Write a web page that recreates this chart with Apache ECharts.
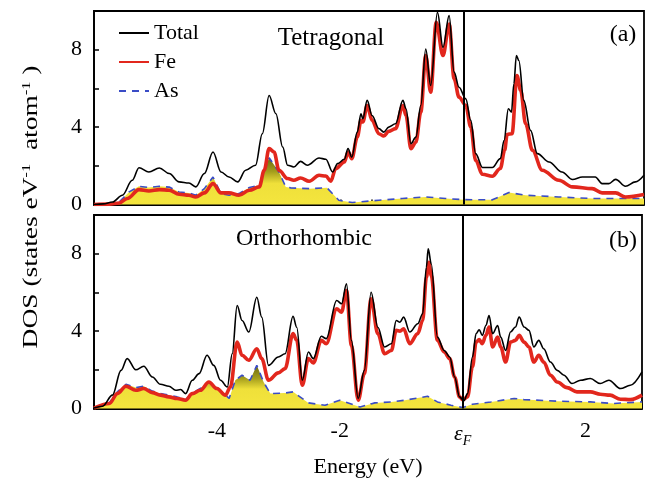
<!DOCTYPE html>
<html><head><meta charset="utf-8">
<script src="https://cdn.jsdelivr.net/npm/echarts@6/dist/echarts.min.js"></script>
<style>html,body{margin:0;padding:0;background:#fff}#c{width:645px;height:483px}</style>
</head><body><div id="c"></div>
<script>
// ---------- data (energy in eV, DOS in states/eV/atom) ----------
const tetTotalE = [-6.0,-5.85,-5.70,-5.54,-5.38,-5.27,-5.11,-4.94,-4.78,-4.62,-4.46,-4.35,-4.21,-4.07,-3.94,-3.81,-3.67,-3.54,-3.38,-3.27,-3.16,-3.05,-2.94,-2.86,-2.76,-2.65,-2.54,-2.35,-2.24,-2.13,-2.05,-1.94,-1.88,-1.82,-1.73,-1.67,-1.64,-1.57,-1.49,-1.38,-1.30,-1.22,-1.11,-0.99,-0.94,-0.86,-0.78,-0.70,-0.62,-0.54,-0.43,-0.34,-0.24,-0.16,-0.08,0.03,0.11,0.19,0.30,0.46,0.59,0.65,0.72,0.77,0.81,0.85,0.89,0.97,1.08,1.19,1.38,1.59,1.76,1.92,2.13,2.24,2.35,2.46,2.62,2.78,2.92];
const tetTotalV = [0,0.03,0.13,0.48,1.25,1.9,1.68,1.89,1.6,1.17,1.11,0.91,1.6,2.71,1.68,1.42,1.17,1.77,2.03,3.66,5.63,4.69,2.97,2.03,1.94,2.23,2.03,2.4,2.34,1.68,2.11,2.34,2.89,2.45,3.74,4.69,4.43,5.38,4.6,3.92,3.74,4.0,4.17,5.38,4.95,3.14,3.48,5.12,8.04,6.15,9.93,8.12,9.76,6.84,6.06,5.46,4.35,2.63,1.91,1.91,2.37,3.31,4.95,4.77,6.24,7.7,7.44,5.38,3.83,2.63,2.2,1.68,1.29,1.42,1.42,1.08,1.08,1.3,0.94,1.17,1.51];

const tetFeE = [-6.0,-5.75,-5.59,-5.46,-5.27,-5.11,-4.94,-4.78,-4.62,-4.46,-4.35,-4.21,-4.07,-3.94,-3.81,-3.65,-3.48,-3.32,-3.24,-3.16,-3.08,-3.0,-2.86,-2.76,-2.65,-2.51,-2.35,-2.24,-2.16,-2.08,-1.94,-1.88,-1.82,-1.73,-1.67,-1.64,-1.57,-1.49,-1.38,-1.30,-1.22,-1.11,-0.99,-0.94,-0.86,-0.78,-0.70,-0.62,-0.54,-0.45,-0.34,-0.24,-0.16,-0.08,0.03,0.11,0.19,0.30,0.46,0.59,0.66,0.70,0.78,0.86,0.92,1.0,1.11,1.27,1.54,1.76,2.08,2.24,2.46,2.62,2.92];
const tetFeV = [0,0.02,0.08,0.31,0.77,0.7,0.77,0.74,0.53,0.48,0.39,0.6,1.08,0.6,0.6,0.48,0.74,0.91,1.77,2.89,2.71,1.77,1.34,1.25,1.37,1.2,1.51,1.47,1.2,1.86,2.2,2.71,2.37,3.48,4.35,4.26,5.12,4.35,3.66,3.54,3.78,3.92,5.12,4.6,2.89,3.22,4.77,7.7,5.8,9.41,7.7,9.33,6.5,5.55,5.12,4.0,2.28,1.56,1.46,1.86,2.8,3.62,3.66,6.66,5.89,4.17,2.8,1.77,1.25,0.91,0.82,0.6,0.6,0.39,0.52];

const tetAsE = [-6.0,-5.75,-5.59,-5.43,-5.27,-5.11,-4.94,-4.78,-4.62,-4.46,-4.35,-4.21,-4.07,-3.94,-3.81,-3.65,-3.48,-3.32,-3.16,-3.0,-2.89,-2.81,-2.51,-2.22,-2.03,-1.81,-1.38,-1.0,-0.62,-0.3,0.0,0.46,0.73,1.0,1.54,2.08,2.51,2.92];
const tetAsV = [0,0.05,0.13,0.65,0.94,0.88,0.94,0.9,0.65,0.6,0.48,0.82,1.42,0.56,0.48,0.56,0.88,1.0,2.42,1.68,0.91,0.86,0.82,0.86,0.22,0.1,0.22,0.31,0.39,0.31,0.25,0.24,0.62,0.48,0.39,0.31,0.31,0.31];

const ortTotalE = [-6.0,-5.86,-5.70,-5.56,-5.46,-5.32,-5.19,-5.05,-4.92,-4.78,-4.67,-4.59,-4.51,-4.40,-4.29,-4.16,-4.05,-3.94,-3.83,-3.75,-3.67,-3.59,-3.48,-3.35,-3.27,-3.16,-3.0,-2.89,-2.76,-2.70,-2.61,-2.51,-2.43,-2.30,-2.22,-2.05,-1.97,-1.89,-1.81,-1.70,-1.60,-1.49,-1.38,-1.27,-1.16,-1.08,-1.02,-0.96,-0.86,-0.73,-0.65,-0.59,-0.56,-0.51,-0.41,-0.30,-0.21,-0.13,-0.05,0.02,0.08,0.16,0.22,0.27,0.32,0.38,0.43,0.49,0.57,0.62,0.70,0.78,0.86,0.92,1.0,1.08,1.16,1.24,1.32,1.43,1.54,1.65,1.78,1.92,2.08,2.24,2.38,2.57,2.73,2.92];
const ortTotalV = [0.02,0.12,0.69,1.97,2.58,2.0,2.18,1.63,1.25,1.15,0.94,0.98,0.77,1.46,1.8,2.75,2.23,1.46,1.11,2.83,5.32,4.55,3.95,5.75,4.72,2.23,2.66,2.83,4.76,4.2,1.46,2.92,2.58,3.73,3.61,5.58,5.41,6.44,3.52,0.52,1.97,6.01,4.2,3.18,3.35,4.55,4.46,4.72,3.95,4.38,4.9,7.3,8.25,7.47,3.69,3.0,2.66,1.63,0.6,0.4,0.77,2.66,3.87,4.07,3.78,4.29,4.81,3.87,4.29,3.69,3.0,3.95,4.21,4.72,4.21,4.04,3.18,3.52,3.09,2.4,1.97,1.72,1.29,1.46,1.55,1.29,1.46,1.03,1.2,1.89];

const ortFeE = [-6.0,-5.75,-5.62,-5.48,-5.32,-5.19,-5.05,-4.92,-4.78,-4.65,-4.51,-4.40,-4.27,-4.13,-4.0,-3.86,-3.78,-3.67,-3.59,-3.48,-3.35,-3.27,-3.16,-3.0,-2.89,-2.76,-2.70,-2.61,-2.51,-2.43,-2.30,-2.22,-2.05,-1.97,-1.89,-1.81,-1.70,-1.60,-1.49,-1.38,-1.27,-1.16,-1.08,-1.02,-0.96,-0.86,-0.73,-0.65,-0.59,-0.55,-0.51,-0.41,-0.30,-0.21,-0.13,-0.05,0.0,0.08,0.16,0.22,0.27,0.32,0.38,0.43,0.49,0.57,0.62,0.70,0.78,0.86,0.92,1.0,1.08,1.16,1.24,1.32,1.43,1.54,1.70,1.86,2.08,2.24,2.40,2.57,2.73,2.92];
const ortFeV = [0.02,0.26,0.77,1.15,0.94,1.03,0.82,0.69,0.6,0.52,0.43,0.77,0.94,1.37,1.03,0.69,1.11,3.43,2.75,2.49,3.09,2.58,1.46,1.84,2.06,3.87,3.52,1.2,2.58,2.35,3.52,3.35,5.15,4.98,6.1,3.26,0.43,1.8,5.67,3.87,2.83,3.0,4.04,4.0,4.12,3.35,3.87,4.55,6.78,7.56,6.87,3.52,2.92,2.58,1.63,0.6,0.45,0.6,2.15,3.43,3.56,3.35,3.78,4.21,3.18,3.69,3.18,2.4,3.43,3.52,3.78,3.43,3.18,2.4,2.75,2.4,1.72,1.37,1.08,0.86,0.86,0.74,0.69,0.48,0.46,0.69];

const ortAsE = [-6.0,-5.75,-5.62,-5.48,-5.32,-5.19,-5.05,-4.92,-4.78,-4.65,-4.51,-4.40,-4.27,-4.13,-4.0,-3.86,-3.80,-3.70,-3.59,-3.46,-3.35,-3.24,-3.13,-2.89,-2.76,-2.51,-2.24,-2.0,-1.67,-1.43,-1.16,-0.94,-0.57,-0.41,-0.19,0.0,0.16,0.46,0.84,1.0,1.54,2.08,2.46,2.92];
const ortAsV = [0.02,0.3,0.86,1.25,1.08,1.15,0.9,0.77,0.69,0.6,0.46,0.8,1.03,1.37,1.11,0.69,0.52,1.46,1.72,1.46,2.23,1.37,0.77,0.8,0.86,0.29,0.17,0.43,0.08,0.29,0.34,0.43,0.63,0.34,0.17,0.05,0.22,0.34,0.52,0.46,0.38,0.34,0.26,0.34];

const seriesNames = ['Total','Fe','As'];
const panelTitles = ['Tetragonal','Orthorhombic'];
const panelTags = ['(a)','(b)'];
const xLabelValues = [-4,-2,0,2];
const yLabelValues = [0,4,8];
const xAxisTitle = 'Energy (eV)';

// ---------- chart ----------
const FONT = '"Liberation Serif","Times New Roman",serif';
const pairs = (E, V) => E.map((e, i) => [e, V[i]]);
const chart = echarts.init(document.getElementById('c'), null, {renderer: 'canvas'});

const gridsDef = [{left: 94, right: 1, top: 11, height: 193.5}, {left: 94, right: 1, top: 215, height: 193.5}];

function xAxisFor(i) {
  return {
    type: 'value', gridIndex: i, min: -6, max: 2.92, interval: 0.5,
    axisLine: {show: true, onZero: false, lineStyle: {color: '#000', width: 1.8}},
    axisTick: {show: true, inside: true, length: 5, lineStyle: {color: '#000', width: 1.5}},
    splitLine: {show: false},
    axisLabel: {
      show: i === 1, interval: 0, margin: 12, color: '#000', fontFamily: FONT, fontSize: 22,
      formatter: v => {
        if (!xLabelValues.some(x => Math.abs(x - v) < 1e-9)) return '';
        if (Math.abs(v) < 1e-9) return '{e|ε}{f|F}';
        return String(v);
      },
      rich: {
        e: {fontFamily: FONT, fontStyle: 'italic', fontSize: 22, color: '#000'},
        f: {fontFamily: FONT, fontStyle: 'italic', fontSize: 14, color: '#000', padding: [14, 0, 0, 0]}
      }
    }
  };
}
function yAxisFor(i) {
  return {
    type: 'value', gridIndex: i, min: 0, max: 10, interval: 2,
    axisLine: {show: true, onZero: false, lineStyle: {color: '#000', width: 1.8}},
    axisTick: {show: true, inside: true, length: 5, lineStyle: {color: '#000', width: 1.5}},
    splitLine: {show: false},
    axisLabel: {
      margin: 12, color: '#000', fontFamily: FONT, fontSize: 22,
      formatter: v => yLabelValues.includes(v) ? String(v) : ''
    }
  };
}

const fillGrad = new echarts.graphic.LinearGradient(0, 0, 0, 1, [
  {offset: 0, color: '#6a6810'},
  {offset: 0.3, color: '#a59e1c'},
  {offset: 0.55, color: '#efe03a'},
  {offset: 1, color: '#f4e53e'}
]);

const panels = [
  {total: pairs(tetTotalE, tetTotalV), fe: pairs(tetFeE, tetFeV), as: pairs(tetAsE, tetAsV)},
  {total: pairs(ortTotalE, ortTotalV), fe: pairs(ortFeE, ortFeV), as: pairs(ortAsE, ortAsV)}
];

const series = [];
panels.forEach((p, i) => {
  series.push({
    name: seriesNames[2], type: 'line', xAxisIndex: i, yAxisIndex: i, data: p.as,
    smooth: false, symbol: 'none', color: '#3a4cc6', z: 2,
    lineStyle: {color: '#3a4cc6', width: 1.6, type: [7, 6]},
    areaStyle: {color: fillGrad, opacity: 1}
  });
  series.push({
    name: seriesNames[1], type: 'line', xAxisIndex: i, yAxisIndex: i, data: p.fe,
    smooth: 0.35, smoothMonotone: 'x', symbol: 'none', color: '#e2271d', z: 3,
    lineStyle: {color: '#e2271d', width: 3.6}
  });
  series.push({
    name: seriesNames[0], type: 'line', xAxisIndex: i, yAxisIndex: i, data: p.total,
    smooth: 0.35, smoothMonotone: 'x', symbol: 'none', color: '#000', z: 4,
    lineStyle: {color: '#000', width: 1.6},
    markLine: {silent: true, symbol: ['none', 'none'], label: {show: false},
      lineStyle: {color: '#000', width: 2, type: 'solid'}, data: [{xAxis: 0}]}
  });
});

const option = {
  animation: false,
  backgroundColor: '#fff',
  grid: gridsDef.map(g => Object.assign({show: true, borderColor: '#000', borderWidth: 1.8, backgroundColor: 'transparent'}, g)),
  xAxis: [xAxisFor(0), xAxisFor(1)],
  yAxis: [yAxisFor(0), yAxisFor(1)],
  legend: {
    data: seriesNames, orient: 'vertical', left: 118, top: 22, itemWidth: 30, itemHeight: 14,
    itemGap: 7, selectedMode: false, padding: 0,
    itemStyle: {color: 'rgba(0,0,0,0)', borderColor: 'rgba(0,0,0,0)', borderWidth: 0, opacity: 0},
    textStyle: {fontFamily: FONT, fontSize: 22, color: '#000'}
  },
  graphic: [
    {type: 'text', x: 331, y: 38, style: {text: panelTitles[0], fontFamily: FONT, fontSize: 25, fill: '#000', align: 'center', verticalAlign: 'middle'}},
    {type: 'text', x: 304, y: 239, style: {text: panelTitles[1], fontFamily: FONT, fontSize: 24, fill: '#000', align: 'center', verticalAlign: 'middle'}},
    {type: 'text', x: 623, y: 35, style: {text: panelTags[0], fontFamily: FONT, fontSize: 24, fill: '#000', align: 'center', verticalAlign: 'middle'}},
    {type: 'text', x: 623, y: 241, style: {text: panelTags[1], fontFamily: FONT, fontSize: 24, fill: '#000', align: 'center', verticalAlign: 'middle'}},
    {type: 'text', x: 368, y: 467, style: {text: xAxisTitle, fontFamily: FONT, fontSize: 22, fill: '#000', align: 'center', verticalAlign: 'middle'}},
    {type: 'text', x: 31, y: 207, rotation: Math.PI / 2, scaleX: 1.25, scaleY: 1,
      style: {text: 'DOS (states eV{s|-1}  atom{s|-1} )', fontFamily: FONT, fontSize: 22, fill: '#000',
        align: 'center', verticalAlign: 'middle',
        rich: {s: {fontFamily: FONT, fontSize: 13, fill: '#000', verticalAlign: 'top', lineHeight: 22}}}}
  ],
  series: series
};
chart.setOption(option);
</script></body></html>
